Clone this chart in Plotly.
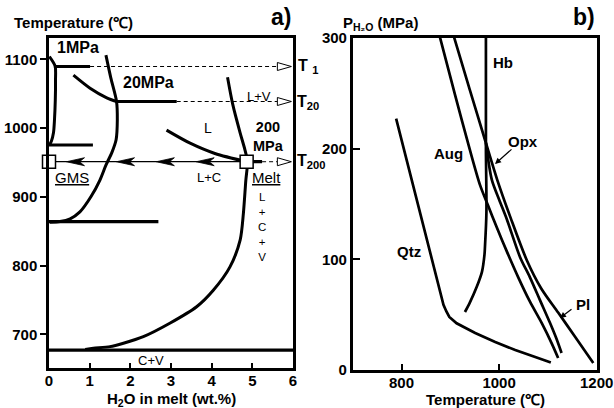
import plotly.graph_objects as go

W, H = 614, 408
FONT = "Liberation Sans"

# ---------------- Panel a) data : H2O in melt (wt.%) vs Temperature (C) ----------------
# 1 MPa liquidus-type curve and its horizontal levels
mpa1_h2o = [0.01, 0.15, 0.16, 0.155, 0.135, 0.11, 0.06, 0.01]
mpa1_temp = [1104, 1090, 1070, 1041, 1012, 993, 981, 975]
t1_level = 1089.5
t1_h2o = [0.15, 1.01]
mpa1_low_level = 975.3
mpa1_low_h2o = [0.0, 1.08]

# 20 MPa curve and level
mpa20_h2o = [0.60, 1.01, 1.42, 1.665]
mpa20_temp = [1077, 1058, 1044, 1038.6]
t20_level = 1038.6
t20_h2o = [1.665, 3.14]

# long boundary curve (through the 20 MPa point down to the GMS level)
bound20_h2o = [1.40, 1.52, 1.66, 1.68, 1.65, 1.55, 1.40, 1.25, 1.03, 0.76, 0.52, 0.27, 0.02]
bound20_temp = [1106, 1073, 1039, 1012, 983, 965, 946, 924, 900, 878, 868, 864, 863]
gms_low_level = 863.8
gms_low_h2o = [0.0, 2.69]

# 200 MPa curves
mpa200_h2o = [4.39, 4.52, 4.70, 4.82, 4.88, 4.84, 4.78, 4.70, 4.45, 4.04, 3.63,
              2.97, 2.32, 1.83, 1.50, 1.09, 0.89]
mpa200_temp = [1074, 1034, 993, 968, 951, 924, 876, 837, 798, 764, 740,
               716, 696.5, 687, 682, 679.6, 678]
liq200_h2o = [2.89, 3.47, 4.08, 4.86]
liq200_temp = [997, 978, 963, 951]
t200_level = 951
melt_h2o = 4.86
t200_solid_end = 5.24
bottom_level = 677
arrow_tips_h2o = [0.43, 1.66, 2.64, 3.62]

# ---------------- Panel b) data : Temperature (C) vs P_H2O (MPa) ----------------
aug_t = [879, 910, 940, 961, 977, 996, 1016, 1039, 1063, 1088, 1108, 1121]
aug_p = [300, 248, 199, 167, 149, 128, 107, 84, 62, 42, 24, 11]
opx_t = [973, 985, 1000, 1016, 1043, 1063, 1084, 1104, 1117, 1128]
opx_p = [205, 172, 154, 136, 102, 84, 63, 43, 29, 15.5]
pl_t = [908, 940, 973, 996, 1024, 1057, 1086, 1121, 1156, 1193]
pl_p = [300, 253, 205, 172, 137, 99, 74, 52, 30, 6.5]
hb_t = [973, 973, 974, 971, 970, 965, 954, 940, 930]
hb_p = [300, 200, 142, 111, 104, 89, 75, 61, 52.5]
qtz_t = [789, 886, 892, 898, 913, 951, 992, 1033, 1074, 1106]
qtz_p = [227, 59, 53, 48, 42.3, 33.6, 25.5, 18.2, 11.9, 6.9]

# ---------------- layout geometry ----------------
xa_dom = [49 / W, 293 / W]
ya_dom = [1 - 368.3 / H, 1 - 37.7 / H]
xa_rng = [0, 6]
ya_rng = [650.5, 1131.4]
xb_dom = [352.7 / W, 596.7 / W]
yb_dom = [1 - 370.2 / H, 1 - 37.7 / H]
xb_rng = [700, 1200]
yb_rng = [0, 300]

pxx = (xa_dom[1] - xa_dom[0]) * W / (xa_rng[1] - xa_rng[0])
pxy = (ya_dom[1] - ya_dom[0]) * H / (ya_rng[1] - ya_rng[0])

fig = go.Figure()


def line_a(x, y, width=3, shape="spline", dash=None):
    fig.add_trace(go.Scatter(x=x, y=y, mode="lines", xaxis="x", yaxis="y",
                             line=dict(color="black", width=width, shape=shape,
                                       dash=dash, smoothing=0.8),
                             hoverinfo="skip", showlegend=False))


def line_b(x, y, width=2.7, shape="spline"):
    fig.add_trace(go.Scatter(x=x, y=y, mode="lines", xaxis="x2", yaxis="y2",
                             line=dict(color="black", width=width, shape=shape, smoothing=0.8),
                             hoverinfo="skip", showlegend=False))


# panel a curves
line_a(mpa1_h2o, mpa1_temp)
line_a(t1_h2o, [t1_level] * 2, shape="linear", width=3.2)
line_a(mpa1_low_h2o, [mpa1_low_level] * 2, shape="linear", width=3.2)
line_a(mpa20_h2o, mpa20_temp)
line_a(t20_h2o, [t20_level] * 2, shape="linear", width=3.2)
line_a(bound20_h2o, bound20_temp)
line_a(gms_low_h2o, [gms_low_level] * 2, shape="linear", width=3.2)
line_a(mpa200_h2o, mpa200_temp)
line_a(liq200_h2o, liq200_temp)
line_a([0, 6], [bottom_level] * 2, shape="linear", width=3.2)
line_a([melt_h2o, t200_solid_end], [t200_level] * 2, shape="linear", width=3.2)

# dashed level lines with open arrowheads
tip_x = 5.96
base_x = tip_x - 14 / pxx
half = 4 / pxy
for start, lvl in [(t1_h2o[1], t1_level), (t20_h2o[1], t20_level), (t200_solid_end, t200_level)]:
    line_a([start, base_x], [lvl, lvl], width=1, shape="linear", dash="4px,3px")
    fig.add_trace(go.Scatter(x=[tip_x, base_x, base_x, tip_x], y=[lvl, lvl + half, lvl - half, lvl],
                             mode="lines", fill="toself", fillcolor="white",
                             line=dict(color="black", width=1), xaxis="x", yaxis="y",
                             hoverinfo="skip", showlegend=False))

# cooling arrow line (Melt -> GMS) with barbed arrowheads
line_a([0, melt_h2o], [t200_level] * 2, width=1.3, shape="linear")
for xt in arrow_tips_h2o:
    L, N, hh = 18 / pxx, 13 / pxx, 4 / pxy
    fig.add_trace(go.Scatter(x=[xt, xt + L, xt + N, xt + L, xt],
                             y=[t200_level, t200_level + hh, t200_level, t200_level - hh, t200_level],
                             mode="lines", fill="toself", fillcolor="black",
                             line=dict(color="black", width=0.8), xaxis="x", yaxis="y",
                             hoverinfo="skip", showlegend=False))

# squares GMS / Melt
fig.add_trace(go.Scatter(x=[0, melt_h2o], y=[t200_level, t200_level], mode="markers",
                         marker=dict(symbol="square", size=13, color="white",
                                     line=dict(color="black", width=1.5)),
                         xaxis="x", yaxis="y", cliponaxis=False,
                         hoverinfo="skip", showlegend=False))

# panel b curves
line_b(aug_t, aug_p)
line_b(opx_t, opx_p)
line_b(pl_t, pl_p)
line_b(hb_t, hb_p)
line_b(qtz_t, qtz_p, shape="linear")

# ---------------- annotations ----------------
ann = []


def A(text, px, py, size=15, bold=True, xanchor="center", yanchor="middle"):
    ann.append(dict(text=(f"<b>{text}</b>" if bold else text), x=px / W, y=1 - py / H,
                    xref="paper", yref="paper", showarrow=False,
                    font=dict(family=FONT, size=size, color="black"),
                    xanchor=xanchor, yanchor=yanchor))


# panel a texts
A("Temperature (℃)", 12, 22, size=15, xanchor="left")
A("a)", 281, 17, size=23)
A("1MPa", 78, 47, size=16)
A("20MPa", 148, 83, size=16)
A("200<br>MPa", 268, 136.5, size=14.5)
A("L+V", 258.5, 96, size=13, bold=False)
A("L", 208, 128, size=14, bold=False)
A("L+C", 209, 177, size=13, bold=False)
A("<u>GMS</u>", 71.7, 177, size=15, bold=False)
A("<u>Melt</u>", 266, 177, size=15, bold=False)
A("L<br>+<br>C<br>+<br>V", 261.7, 227, size=11.5, bold=False)
A("C+V", 151, 360, size=13, bold=False)
A("T <sub>1</sub>", 296, 67, size=16, xanchor="left")
A("T<sub>20</sub>", 295, 102, size=16, xanchor="left")
A("T<sub>200</sub>", 295, 162, size=16, xanchor="left")
A("H<sub>2</sub>O in melt (wt.%)", 171.7, 399, size=15)

# panel b texts
A("P<sub>H₂O</sub> (MPa)", 341, 23.5, size=15, xanchor="left")
A("b)", 584, 17, size=23)
A("Hb", 503, 62, size=15)
A("Opx", 523, 141, size=15)
A("Aug", 448, 153, size=15)
A("Qtz", 409, 251, size=15)
A("Pl", 583, 304, size=15)
A("Temperature (℃)", 485, 399, size=15)

# small pointer arrows
for tip, tail in [((495, 164), (513, 148)), ((560, 318), (573, 308))]:
    ann.append(dict(text="", x=tip[0] / W, y=1 - tip[1] / H, xref="paper", yref="paper",
                    showarrow=True, arrowhead=2, arrowsize=1, arrowwidth=1.2,
                    arrowcolor="black", ax=tail[0] - tip[0], ay=tail[1] - tip[1]))

tickfont = dict(family=FONT, size=15, color="black", weight="bold")
axis_common = dict(showline=True, linecolor="black", linewidth=2.5, mirror=True,
                   showgrid=False, zeroline=False, tickcolor="black", tickwidth=2,
                   tickfont=tickfont, automargin=False)

fig.update_layout(
    width=W, height=H, margin=dict(l=0, r=0, t=0, b=0),
    paper_bgcolor="white", plot_bgcolor="white", showlegend=False,
    xaxis=dict(domain=xa_dom, range=xa_rng, tickvals=[0, 1, 2, 3, 4, 5, 6],
               ticks="inside", ticklen=6, anchor="y", ticklabelstandoff=-3, **axis_common),
    yaxis=dict(domain=ya_dom, range=ya_rng, tickvals=[700, 800, 900, 1000, 1100],
               ticks="outside", ticklen=6, anchor="x", **axis_common),
    xaxis2=dict(domain=xb_dom, range=xb_rng, tickvals=[800, 1000, 1200],
                ticks="inside", ticklen=6, anchor="y2", ticklabelstandoff=-3, **axis_common),
    yaxis2=dict(domain=yb_dom, range=yb_rng, tickvals=[0, 100, 200, 300],
                ticks="inside", ticklen=8, anchor="x2", **axis_common),
    annotations=ann,
)

fig.write_html("out.html")
